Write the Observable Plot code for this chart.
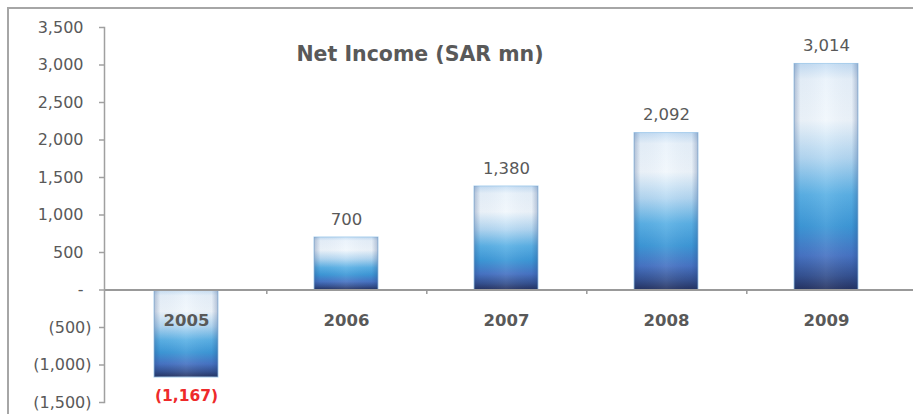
<!DOCTYPE html>
<html>
<head>
<meta charset="utf-8">
<script src="https://cdn.jsdelivr.net/npm/d3@7"></script>
<script src="https://cdn.jsdelivr.net/npm/@observablehq/plot@0.6"></script>
<style>
  html, body { margin: 0; padding: 0; background: #fff; }
  #wrap { position: relative; width: 913px; height: 414px; overflow: hidden; }
  #frame { position: absolute; left: 7px; top: 7px; width: 920px; height: 420px;
           border-left: 2px solid #a6a6a6; border-top: 2px solid #a6a6a6; box-sizing: border-box; }
  #chart { position: absolute; left: 0; top: 0; }
</style>
</head>
<body>
<div id="wrap"><div id="frame"></div><div id="chart"></div></div>
<script>
const title = "Net Income (SAR mn)";
const years = ["2005", "2006", "2007", "2008", "2009"];
const netIncome = [-1167, 700, 1380, 2092, 3014];
const yTicks = [-1500, -1000, -500, 0, 500, 1000, 1500, 2000, 2500, 3000, 3500];

const data = years.map((y, i) => ({year: y, value: netIncome[i]}));
const fmtNum = d3.format(",");
const fmtAcct = v => v === 0 ? "-" : v < 0 ? `(${fmtNum(-v)})` : fmtNum(v);
// accounting-style alignment: positives/zero leave room for the closing parenthesis
const fmtTick = v => v < 0 ? fmtAcct(v) : fmtAcct(v) + "\u2002";

const defs = () => {
  const ns = "http://www.w3.org/2000/svg";
  const g = document.createElementNS(ns, "defs");
  g.innerHTML = `
    <linearGradient id="barGrad" x1="0" y1="0" x2="0" y2="1">
      <stop offset="0" stop-color="#c6def4"/>
      <stop offset="0.07" stop-color="#eaf3fb"/>
      <stop offset="0.25" stop-color="#f1f7fc"/>
      <stop offset="0.42" stop-color="#b4d8f2"/>
      <stop offset="0.58" stop-color="#5bb1e5"/>
      <stop offset="0.72" stop-color="#3d98d7"/>
      <stop offset="0.85" stop-color="#4773c3"/>
      <stop offset="0.94" stop-color="#34508f"/>
      <stop offset="1" stop-color="#253260"/>
    </linearGradient>
    <linearGradient id="edgeGrad" x1="0" y1="0" x2="1" y2="0">
      <stop offset="0" stop-color="#1d3f7a" stop-opacity="0.3"/>
      <stop offset="0.1" stop-color="#1d3f7a" stop-opacity="0.04"/>
      <stop offset="0.5" stop-color="#ffffff" stop-opacity="0.08"/>
      <stop offset="0.9" stop-color="#1d3f7a" stop-opacity="0.04"/>
      <stop offset="1" stop-color="#1d3f7a" stop-opacity="0.3"/>
    </linearGradient>`;
  return g;
};

const chart = Plot.plot({
  width: 913,
  height: 414,
  marginLeft: 104,
  marginRight: 6,
  marginTop: 27,
  marginBottom: 12,
  style: {fontFamily: "'DejaVu Sans', sans-serif", fontSize: "16px", color: "#595959", background: "transparent"},
  x: {domain: years, paddingInner: 0.6, paddingOuter: 0.3, axis: null},
  y: {domain: [-1500, 3500], ticks: yTicks, axis: null},
  marks: [
    defs,
    Plot.barY(data, {x: "year", y: "value", fill: "url(#barGrad)", stroke: "#a9cfee", strokeWidth: 1}),
    Plot.barY(data, {x: "year", y: "value", fill: "url(#edgeGrad)"}),
    Plot.ruleY([0], {stroke: "#999999", strokeWidth: 2, insetRight: -10}),
    Plot.ruleX(years.slice(0, 4), {x: d => d, y1: 0, y2: -60, dx: 80.3, stroke: "#999999", strokeWidth: 1.5}),
    Plot.frame({anchor: "left", stroke: "#a0a0a0", strokeWidth: 1.5}),
    Plot.axisY({ticks: yTicks, tickFormat: fmtTick, tickSize: 5, tickPadding: 8, label: null,
                stroke: "#a0a0a0", strokeWidth: 1.5, fill: "#595959", fontSize: 16}),
    Plot.text(data, {x: "year", y: 0, text: "year", dy: 31, fontWeight: "bold", fontSize: 16.5, fill: "#595959"}),
    Plot.text(data.filter(d => d.value >= 0), {x: "year", y: "value", text: d => fmtNum(d.value), dy: -18, fontSize: 16.5, fill: "#595959"}),
    Plot.text(data.filter(d => d.value < 0), {x: "year", y: "value", text: d => fmtAcct(d.value), dy: 19, fontSize: 15.5, fontWeight: "bold", fill: "#ee2a2a"}),
    Plot.text([title], {frameAnchor: "top", dx: -86, dy: 19, text: d => d, fontWeight: "bold", fontSize: 20.5, fill: "#595959"})
  ]
});
document.getElementById("chart").appendChild(chart);
</script>
</body>
</html>
